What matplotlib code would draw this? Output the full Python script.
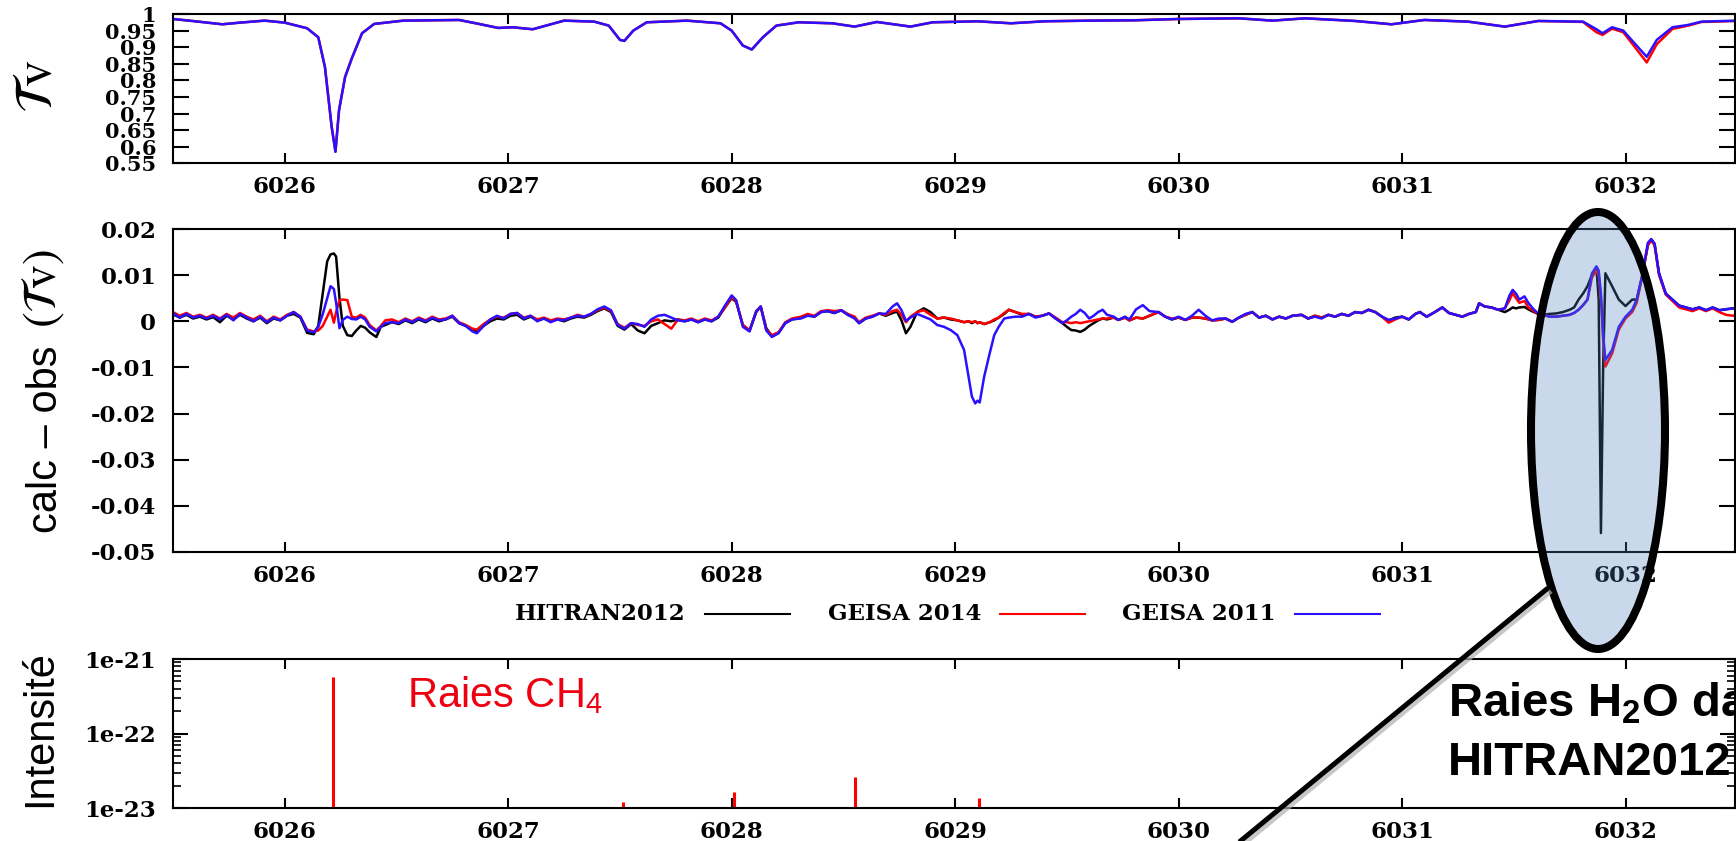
import matplotlib
matplotlib.use('Agg')
import matplotlib.pyplot as plt
from matplotlib.patches import Ellipse
from matplotlib.ticker import FixedLocator, LogLocator, NullFormatter, FixedFormatter

plt.rcParams['axes.unicode_minus'] = False
plt.rcParams['mathtext.fontset'] = 'custom'
plt.rcParams['mathtext.rm'] = 'Liberation Sans'
plt.rcParams['mathtext.it'] = 'Liberation Sans:italic'
plt.rcParams['mathtext.bf'] = 'Liberation Sans:bold'

# ---------------- data ----------------
x_ticks = [6026, 6027, 6028, 6029, 6030, 6031, 6032]
x_tick_labels = ['6026', '6027', '6028', '6029', '6030', '6031', '6032']

trans_y_ticks = [0.55, 0.6, 0.65, 0.7, 0.75, 0.8, 0.85, 0.9, 0.95, 1.0]
trans_y_labels = ['0.55', '0.6', '0.65', '0.7', '0.75', '0.8', '0.85', '0.9', '0.95', '1']

res_y_ticks = [-0.05, -0.04, -0.03, -0.02, -0.01, 0.0, 0.01, 0.02]
res_y_labels = ['-0.05', '-0.04', '-0.03', '-0.02', '-0.01', '0', '0.01', '0.02']

int_y_ticks = [1e-23, 1e-22, 1e-21]
int_y_labels = ['1e-23', '1e-22', '1e-21']

trans_x = [6025.50, 6025.60, 6025.72, 6025.80, 6025.91, 6026.00, 6026.10, 6026.15,
           6026.18, 6026.21, 6026.227, 6026.243, 6026.27, 6026.30, 6026.346, 6026.40,
           6026.53, 6026.78, 6026.87, 6026.955, 6027.02, 6027.11, 6027.25, 6027.385,
           6027.45, 6027.50, 6027.52, 6027.56, 6027.62, 6027.80, 6027.95, 6028.00,
           6028.05, 6028.09, 6028.14, 6028.20, 6028.30, 6028.45, 6028.55, 6028.65,
           6028.80, 6028.90, 6029.10, 6029.25, 6029.40, 6029.60, 6029.80, 6030.00,
           6030.27, 6030.42, 6030.566, 6030.79, 6030.953, 6031.10, 6031.295, 6031.46,
           6031.61, 6031.81, 6031.87, 6031.897, 6031.94, 6031.99, 6032.04, 6032.095,
           6032.14, 6032.21, 6032.28, 6032.34, 6032.50]
trans_geisa2011 = [0.985, 0.978, 0.969, 0.974, 0.980, 0.974, 0.957, 0.930,
                   0.840, 0.660, 0.585, 0.710, 0.810, 0.866, 0.942, 0.970,
                   0.980, 0.982, 0.970, 0.958, 0.960, 0.954, 0.980, 0.977,
                   0.965, 0.922, 0.919, 0.950, 0.975, 0.980, 0.972, 0.950,
                   0.905, 0.893, 0.930, 0.965, 0.975, 0.972, 0.962, 0.976,
                   0.962, 0.975, 0.978, 0.972, 0.978, 0.980, 0.981, 0.985,
                   0.987, 0.980, 0.987, 0.979, 0.969, 0.982, 0.977, 0.962,
                   0.979, 0.977, 0.954, 0.942, 0.960, 0.950, 0.912, 0.871,
                   0.922, 0.960, 0.967, 0.977, 0.980]
trans_geisa2014 = [0.985, 0.978, 0.969, 0.974, 0.980, 0.974, 0.957, 0.930,
                   0.840, 0.660, 0.585, 0.710, 0.810, 0.866, 0.942, 0.970,
                   0.980, 0.982, 0.970, 0.958, 0.960, 0.954, 0.980, 0.977,
                   0.965, 0.922, 0.919, 0.950, 0.975, 0.980, 0.972, 0.950,
                   0.905, 0.893, 0.930, 0.965, 0.975, 0.972, 0.962, 0.976,
                   0.962, 0.975, 0.978, 0.972, 0.978, 0.980, 0.981, 0.985,
                   0.987, 0.980, 0.987, 0.979, 0.969, 0.982, 0.977, 0.962,
                   0.979, 0.976, 0.945, 0.937, 0.956, 0.945, 0.902, 0.854,
                   0.909, 0.955, 0.965, 0.976, 0.979]

res_x = [6025.50, 6025.53, 6025.56, 6025.59, 6025.62, 6025.65, 6025.68, 6025.71, 6025.74, 6025.77,
         6025.80, 6025.83, 6025.86, 6025.89, 6025.92, 6025.95, 6025.98, 6026.01, 6026.04, 6026.07,
         6026.10, 6026.13, 6026.15, 6026.17, 6026.19, 6026.205, 6026.22, 6026.23, 6026.245, 6026.26,
         6026.28, 6026.30, 6026.32, 6026.34, 6026.36, 6026.38, 6026.41, 6026.43, 6026.45, 6026.48,
         6026.51, 6026.54, 6026.57, 6026.60, 6026.63, 6026.66, 6026.69, 6026.72, 6026.75, 6026.78,
         6026.81, 6026.84, 6026.86, 6026.89, 6026.92, 6026.95, 6026.98, 6027.01, 6027.04, 6027.07,
         6027.10, 6027.13, 6027.16, 6027.19, 6027.22, 6027.25, 6027.28, 6027.31, 6027.34, 6027.37,
         6027.40, 6027.43, 6027.46, 6027.49, 6027.52, 6027.55, 6027.58, 6027.61, 6027.64, 6027.67,
         6027.70, 6027.73, 6027.76, 6027.79, 6027.82, 6027.85, 6027.88, 6027.91, 6027.94, 6027.97,
         6028.00, 6028.02, 6028.05, 6028.08, 6028.11, 6028.13, 6028.155, 6028.18, 6028.21, 6028.24,
         6028.27, 6028.31, 6028.34, 6028.37, 6028.40, 6028.43, 6028.46, 6028.49, 6028.52, 6028.55,
         6028.57, 6028.60, 6028.63, 6028.66, 6028.69, 6028.72, 6028.74, 6028.76, 6028.78, 6028.80,
         6028.83, 6028.86, 6028.89, 6028.92, 6028.95, 6028.98, 6029.01, 6029.04, 6029.06, 6029.075,
         6029.09, 6029.10, 6029.11, 6029.13, 6029.155, 6029.175, 6029.195, 6029.22, 6029.24, 6029.27,
         6029.30, 6029.33, 6029.36, 6029.39, 6029.42, 6029.45, 6029.48, 6029.50, 6029.52, 6029.54,
         6029.56, 6029.58, 6029.60, 6029.62, 6029.64, 6029.66, 6029.68, 6029.71, 6029.73, 6029.76,
         6029.78, 6029.81, 6029.84, 6029.87, 6029.91, 6029.94, 6029.97, 6030.00, 6030.03, 6030.06,
         6030.09, 6030.12, 6030.15, 6030.18, 6030.21, 6030.24, 6030.27, 6030.30, 6030.33, 6030.36,
         6030.39, 6030.42, 6030.45, 6030.48, 6030.51, 6030.55, 6030.58, 6030.61, 6030.64, 6030.67,
         6030.70, 6030.73, 6030.76, 6030.79, 6030.82, 6030.85, 6030.88, 6030.91, 6030.94, 6030.97,
         6031.00, 6031.03, 6031.06, 6031.08, 6031.11, 6031.14, 6031.18, 6031.21, 6031.24, 6031.27,
         6031.30, 6031.33, 6031.345, 6031.37, 6031.40, 6031.43, 6031.46, 6031.48, 6031.495, 6031.51,
         6031.525, 6031.548, 6031.565, 6031.585, 6031.61, 6031.63, 6031.66, 6031.69, 6031.72, 6031.75,
         6031.77, 6031.79, 6031.81, 6031.83, 6031.85, 6031.87, 6031.88, 6031.89, 6031.90, 6031.91,
         6031.94, 6031.97, 6032.00, 6032.03, 6032.05, 6032.074, 6032.10, 6032.115, 6032.13, 6032.15,
         6032.18, 6032.21, 6032.24, 6032.27, 6032.30, 6032.33, 6032.36, 6032.39, 6032.42, 6032.45,
         6032.48, 6032.50]

res_hitran2012 = [0.0015, 0.0008, 0.0014, 0.0006, 0.0010, 0.0004, 0.0009, -0.0002, 0.0012, 0.0004,
                  0.0014, 0.0006, 0.0000, 0.0008, -0.0004, 0.0006, 0.0002, 0.0012, 0.0016, 0.0008,
                  -0.0025, -0.0028, -0.0010, 0.0060, 0.0130, 0.0145, 0.0147, 0.0140, 0.0050, -0.0010,
                  -0.0030, -0.0032, -0.0020, -0.0010, -0.0014, -0.0024, -0.0034, -0.0012, -0.0008, -0.0002,
                  -0.0006, 0.0002, -0.0004, 0.0004, -0.0002, 0.0006, 0.0000, 0.0004, 0.0010, -0.0004,
                  -0.0010, -0.0020, -0.0022, -0.0010, 0.0000, 0.0006, 0.0004, 0.0012, 0.0014, 0.0004,
                  0.0010, 0.0002, 0.0006, 0.0000, 0.0004, 0.0000, 0.0006, 0.0010, 0.0008, 0.0014,
                  0.0022, 0.0028, 0.0020, -0.0010, -0.0018, -0.0006, -0.0020, -0.0026, -0.0010, -0.0004,
                  0.0002, 0.0000, 0.0004, 0.0000, 0.0004, -0.0002, 0.0004, 0.0000, 0.0008, 0.0030,
                  0.0050, 0.0042, -0.0008, -0.0020, 0.0020, 0.0032, -0.0015, -0.0032, -0.0024, -0.0004,
                  0.0004, 0.0008, 0.0014, 0.0010, 0.0020, 0.0022, 0.0018, 0.0024, 0.0014, 0.0008,
                  -0.0004, 0.0006, 0.0010, 0.0017, 0.0012, 0.0018, 0.0021, 0.0002, -0.0026, -0.0012,
                  0.0020, 0.0028, 0.0020, 0.0006, 0.0008, 0.0004, 0.0002, -0.0002, 0.0000, -0.0004,
                  0.0000, -0.0004, -0.0002, -0.0006, -0.0002, 0.0002, 0.0008, 0.0016, 0.0025, 0.0020,
                  0.0014, 0.0016, 0.0010, 0.0012, 0.0017, 0.0006, -0.0004, -0.0012, -0.0019, -0.0020,
                  -0.0023, -0.0018, -0.0010, -0.0004, 0.0002, 0.0006, 0.0004, 0.0008, 0.0003, 0.0008,
                  0.0002, 0.0008, 0.0006, 0.0012, 0.0020, 0.0010, 0.0004, 0.0008, 0.0003, 0.0008,
                  0.0008, 0.0006, 0.0002, 0.0003, 0.0006, -0.0001, 0.0008, 0.0014, 0.0020, 0.0008,
                  0.0012, 0.0004, 0.0010, 0.0006, 0.0012, 0.0014, 0.0006, 0.0012, 0.0008, 0.0014,
                  0.0010, 0.0016, 0.0012, 0.0020, 0.0018, 0.0025, 0.0020, 0.0010, 0.0002, 0.0008,
                  0.0010, 0.0004, 0.0016, 0.0020, 0.0010, 0.0018, 0.0030, 0.0018, 0.0014, 0.0010,
                  0.0016, 0.0020, 0.0039, 0.0032, 0.0030, 0.0025, 0.0020, 0.0025, 0.0030, 0.0028,
                  0.0030, 0.0031, 0.0026, 0.0021, 0.0016, 0.0014, 0.0016, 0.0017, 0.0020, 0.0025,
                  0.0030, 0.0047, 0.0060, 0.0076, 0.0101, 0.0116, 0.0047, -0.0459, -0.0098, 0.0104,
                  0.0076, 0.0047, 0.0033, 0.0047, 0.0047, 0.0097, 0.0165, 0.0178, 0.0168, 0.0104,
                  0.0060, 0.0047, 0.0034, 0.0030, 0.0026, 0.0030, 0.0024, 0.0030, 0.0024, 0.0026,
                  0.0028, 0.0025]

res_geisa2014 = [0.0020, 0.0012, 0.0018, 0.0010, 0.0014, 0.0008, 0.0014, 0.0006, 0.0016, 0.0008,
                 0.0018, 0.0010, 0.0004, 0.0012, 0.0000, 0.0010, 0.0004, 0.0014, 0.0020, 0.0010,
                 -0.0018, -0.0022, -0.0020, -0.0010, 0.0010, 0.0025, -0.0003, 0.0020, 0.0046, 0.0047,
                 0.0046, 0.0010, 0.0008, 0.0014, 0.0008, -0.0008, -0.0020, -0.0010, 0.0002, 0.0004,
                 -0.0002, 0.0006, 0.0000, 0.0008, 0.0002, 0.0010, 0.0004, 0.0006, 0.0012, -0.0002,
                 -0.0008, -0.0016, -0.0018, -0.0006, 0.0004, 0.0010, 0.0008, 0.0016, 0.0018, 0.0008,
                 0.0012, 0.0004, 0.0008, 0.0002, 0.0006, 0.0004, 0.0008, 0.0014, 0.0010, 0.0016,
                 0.0024, 0.0030, 0.0022, -0.0006, -0.0014, -0.0004, -0.0008, -0.0010, 0.0000, 0.0004,
                 -0.0006, -0.0016, 0.0004, 0.0002, 0.0006, 0.0000, 0.0006, 0.0002, 0.0010, 0.0030,
                 0.0052, 0.0044, -0.0008, -0.0020, 0.0022, 0.0032, -0.0018, -0.0030, -0.0024, -0.0002,
                 0.0006, 0.0010, 0.0016, 0.0012, 0.0022, 0.0024, 0.0022, 0.0024, 0.0016, 0.0010,
                 -0.0002, 0.0008, 0.0012, 0.0017, 0.0014, 0.0022, 0.0025, 0.0014, -0.0002, 0.0010,
                 0.0020, 0.0024, 0.0014, 0.0006, 0.0008, 0.0006, 0.0002, -0.0002, 0.0000, -0.0002,
                 0.0000, -0.0004, -0.0002, -0.0006, -0.0002, 0.0004, 0.0008, 0.0018, 0.0025, 0.0020,
                 0.0016, 0.0016, 0.0010, 0.0012, 0.0017, 0.0008, -0.0002, -0.0002, -0.0004, -0.0002,
                 -0.0004, -0.0002, 0.0000, 0.0002, 0.0004, 0.0006, 0.0006, 0.0008, 0.0003, 0.0008,
                 0.0002, 0.0008, 0.0006, 0.0012, 0.0020, 0.0010, 0.0006, 0.0008, 0.0003, 0.0008,
                 0.0008, 0.0006, 0.0002, 0.0003, 0.0006, -0.0001, 0.0008, 0.0014, 0.0020, 0.0008,
                 0.0012, 0.0004, 0.0010, 0.0006, 0.0012, 0.0014, 0.0006, 0.0012, 0.0008, 0.0014,
                 0.0010, 0.0016, 0.0012, 0.0020, 0.0018, 0.0025, 0.0020, 0.0010, -0.0003, 0.0004,
                 0.0010, 0.0004, 0.0016, 0.0020, 0.0010, 0.0018, 0.0030, 0.0018, 0.0014, 0.0010,
                 0.0016, 0.0020, 0.0039, 0.0032, 0.0030, 0.0025, 0.0028, 0.0045, 0.0061, 0.0050,
                 0.0040, 0.0044, 0.0030, 0.0024, 0.0014, 0.0014, 0.0010, 0.0010, 0.0012, 0.0014,
                 0.0018, 0.0025, 0.0035, 0.0047, 0.0095, 0.0110, 0.0100, 0.0050, -0.0040, -0.0098,
                 -0.0070, -0.0018, 0.0006, 0.0020, 0.0040, 0.0095, 0.0165, 0.0175, 0.0165, 0.0100,
                 0.0058, 0.0044, 0.0030, 0.0026, 0.0022, 0.0028, 0.0022, 0.0028, 0.0020, 0.0014,
                 0.0012, 0.0014]

res_geisa2011 = [0.0018, 0.0008, 0.0016, 0.0008, 0.0012, 0.0006, 0.0012, 0.0004, 0.0014, 0.0002,
                 0.0016, 0.0008, 0.0000, 0.0010, -0.0002, 0.0008, 0.0002, 0.0012, 0.0020, 0.0010,
                 -0.0020, -0.0024, -0.0012, 0.0015, 0.0050, 0.0076, 0.0070, 0.0040, -0.0015, 0.0003,
                 0.0010, 0.0005, 0.0004, 0.0010, 0.0004, -0.0012, -0.0022, -0.0012, -0.0004, -0.0002,
                 -0.0004, 0.0004, -0.0002, 0.0006, 0.0000, 0.0008, 0.0002, 0.0004, 0.0012, -0.0004,
                 -0.0010, -0.0022, -0.0026, -0.0010, 0.0004, 0.0012, 0.0006, 0.0016, 0.0018, 0.0006,
                 0.0012, 0.0000, 0.0006, -0.0002, 0.0004, 0.0002, 0.0008, 0.0012, 0.0010, 0.0016,
                 0.0026, 0.0032, 0.0024, -0.0008, -0.0016, -0.0004, -0.0006, -0.0012, 0.0004, 0.0012,
                 0.0014, 0.0008, 0.0002, 0.0000, 0.0004, -0.0002, 0.0004, 0.0000, 0.0010, 0.0034,
                 0.0056, 0.0046, -0.0012, -0.0022, 0.0022, 0.0032, -0.0020, -0.0034, -0.0026, -0.0004,
                 0.0004, 0.0006, 0.0012, 0.0010, 0.0020, 0.0022, 0.0018, 0.0024, 0.0014, 0.0006,
                 -0.0004, 0.0006, 0.0010, 0.0017, 0.0016, 0.0032, 0.0039, 0.0024, 0.0001, 0.0008,
                 0.0016, 0.0010, 0.0004, -0.0008, -0.0012, -0.0019, -0.0030, -0.0062, -0.0120, -0.0163,
                 -0.0178, -0.0172, -0.0176, -0.0120, -0.0069, -0.0030, -0.0012, 0.0006, 0.0008, 0.0010,
                 0.0010, 0.0016, 0.0008, 0.0012, 0.0017, 0.0006, -0.0004, 0.0002, 0.0010, 0.0016,
                 0.0025, 0.0018, 0.0006, 0.0012, 0.0020, 0.0025, 0.0014, 0.0010, 0.0003, 0.0010,
                 0.0004, 0.0026, 0.0035, 0.0022, 0.0020, 0.0010, 0.0004, 0.0010, 0.0003, 0.0012,
                 0.0025, 0.0012, 0.0002, 0.0006, 0.0006, -0.0001, 0.0008, 0.0016, 0.0020, 0.0008,
                 0.0012, 0.0004, 0.0010, 0.0006, 0.0012, 0.0014, 0.0006, 0.0010, 0.0006, 0.0014,
                 0.0010, 0.0016, 0.0012, 0.0020, 0.0018, 0.0025, 0.0020, 0.0010, 0.0003, 0.0006,
                 0.0010, 0.0004, 0.0016, 0.0020, 0.0010, 0.0018, 0.0030, 0.0018, 0.0014, 0.0010,
                 0.0016, 0.0020, 0.0039, 0.0032, 0.0030, 0.0025, 0.0028, 0.0055, 0.0068, 0.0060,
                 0.0047, 0.0054, 0.0040, 0.0028, 0.0016, 0.0014, 0.0010, 0.0010, 0.0012, 0.0014,
                 0.0018, 0.0025, 0.0035, 0.0047, 0.0104, 0.0119, 0.0110, 0.0060, -0.0030, -0.0084,
                 -0.0062, -0.0012, 0.0010, 0.0025, 0.0047, 0.0097, 0.0170, 0.0178, 0.0168, 0.0104,
                 0.0060, 0.0047, 0.0034, 0.0030, 0.0026, 0.0030, 0.0024, 0.0030, 0.0024, 0.0026,
                 0.0028, 0.0026]

ch4_x = [6026.214, 6027.515, 6028.012, 6028.55, 6029.105]
ch4_intensity = [5.7e-22, 1.2e-23, 1.64e-23, 2.63e-23, 1.39e-23]

series_labels = ['HITRAN2012', 'GEISA 2014', 'GEISA 2011']
series_colors = ['#000000', '#ff0000', '#2a10ff']

# ---------------- layout ----------------
W, H = 1736, 841
DPI = 100
fig = plt.figure(figsize=(W / DPI, H / DPI), dpi=DPI)


def px_axes(l, t, r, b, **kw):
    return fig.add_axes([l / W, 1 - b / H, (r - l) / W, (b - t) / H], **kw)


XL, XR = 173, 1735
XLIM = (6025.5, 6032.49)
TICK_FS = 16.5
LW_DATA = 1.8


def style_axes(ax, ylen=11.5, yfs=TICK_FS):
    ax.set_xlim(*XLIM)
    for s in ax.spines.values():
        s.set_linewidth(1.5)
    ax.xaxis.set_major_locator(FixedLocator(x_ticks))
    ax.xaxis.set_major_formatter(FixedFormatter(x_tick_labels))
    ax.tick_params(axis='x', which='major', direction='in', top=True, bottom=True,
                   length=7.2, width=1.5, pad=9)
    ax.tick_params(axis='y', which='major', direction='in', left=True, right=True,
                   length=ylen, width=1.5, pad=12)
    for lab in ax.get_xticklabels():
        lab.set_fontfamily('DejaVu Serif')
        lab.set_fontweight('bold')
        lab.set_fontsize(TICK_FS)
    for lab in ax.get_yticklabels():
        lab.set_fontfamily('DejaVu Serif')
        lab.set_fontweight('bold')
        lab.set_fontsize(yfs)


# top panel: transmission
ax1 = px_axes(XL, 14, XR, 163.3)
ax1.plot(trans_x, trans_geisa2014, color=series_colors[1], lw=LW_DATA)
ax1.plot(trans_x, trans_geisa2011, color=series_colors[2], lw=LW_DATA)
ax1.set_ylim(0.55, 1.0)
ax1.yaxis.set_major_locator(FixedLocator(trans_y_ticks))
ax1.yaxis.set_major_formatter(FixedFormatter(trans_y_labels))
style_axes(ax1, yfs=15)

# middle panel: residuals
ax2 = px_axes(XL, 229, XR, 552)
ax2.plot(res_x, res_hitran2012, color=series_colors[0], lw=LW_DATA)
ax2.plot(res_x, res_geisa2014, color=series_colors[1], lw=LW_DATA)
ax2.plot(res_x, res_geisa2011, color=series_colors[2], lw=LW_DATA)
ax2.set_ylim(-0.05, 0.02)
ax2.yaxis.set_major_locator(FixedLocator(res_y_ticks))
ax2.yaxis.set_major_formatter(FixedFormatter(res_y_labels))
style_axes(ax2)

# bottom panel: line intensities
ax3 = px_axes(XL, 659, XR, 808.3)
ax3.set_yscale('log')
ax3.vlines(ch4_x, 1e-23, ch4_intensity, color=series_colors[1], lw=2.2)
ax3.set_ylim(1e-23, 1e-21)
ax3.yaxis.set_major_locator(FixedLocator(int_y_ticks))
ax3.yaxis.set_major_formatter(FixedFormatter(int_y_labels))
ax3.yaxis.set_minor_locator(LogLocator(base=10, subs=[2, 3, 4, 5, 6, 7, 8, 9]))
ax3.yaxis.set_minor_formatter(NullFormatter())
style_axes(ax3, ylen=11)
ax3.tick_params(axis='y', which='minor', direction='in', left=True, right=True,
                length=5.8, width=1.2)

# y labels
fig.text(37 / W, 1 - 86 / H, r'$\mathcal{T}\mathrm{v}$', rotation=90, ha='center', va='center',
         fontsize=38, math_fontfamily='stix')
fig.text(46 / W, 1 - 533 / H, 'calc – obs', rotation=90, ha='center', va='bottom',
         fontsize=30, family='Liberation Sans')
fig.text(43 / W, 1 - 249 / H, r'$(\mathcal{T}\mathrm{v})$', rotation=90, ha='center', va='top',
         fontsize=34, math_fontfamily='stix')
fig.text(40 / W, 1 - 729 / H, 'Intensité', rotation=90, ha='center', va='center',
         fontsize=30, family='Liberation Sans')

# overlay in pixel coordinates
ov = fig.add_axes([0, 0, 1, 1], zorder=10)
ov.set_xlim(0, W)
ov.set_ylim(H, 0)
ov.axis('off')
ov.patch.set_alpha(0)

# legend (text then line sample)
leg_text_right = [686, 981, 1275]
leg_line_start = [705, 1000, 1295]
leg_y = 613.5
for lab, col, xr, xs in zip(series_labels, series_colors, leg_text_right, leg_line_start):
    ov.text(xr, leg_y, lab, ha='right', va='center', fontfamily='DejaVu Serif',
            fontweight='bold', fontsize=TICK_FS)
    ov.plot([xs, xs + 85], [leg_y, leg_y], color=col, lw=1.5)

# Raies CH4 label
ov.text(407, 707, r'Raies CH$_4$', color='#ee0011', fontsize=30, family='Liberation Sans',
        ha='left', va='baseline')

# callout line with shadow
ov.plot([1551, 1235], [591, 851], color='#b0b0b0', lw=3.6, solid_capstyle='butt', alpha=0.7)
ov.plot([1548, 1232], [588, 848], color='black', lw=3.6, solid_capstyle='butt')

# ellipse highlighting HITRAN2012 water line
ell = Ellipse((1598, 430.5), 134, 437, facecolor=(79 / 255, 129 / 255, 189 / 255, 0.3),
              edgecolor='black', lw=5.8)
ov.add_patch(ell)

# H2O label
ov.text(1448, 717, r'Raies H$_\mathbf{2}$O dans', fontsize=34, family='Liberation Sans',
        fontweight='bold', ha='left', va='baseline', clip_on=False)
ov.text(1448, 775, 'HITRAN2012', fontsize=34, family='Liberation Sans',
        fontweight='bold', ha='left', va='baseline', clip_on=False)

fig.savefig('out.png', dpi=DPI)
